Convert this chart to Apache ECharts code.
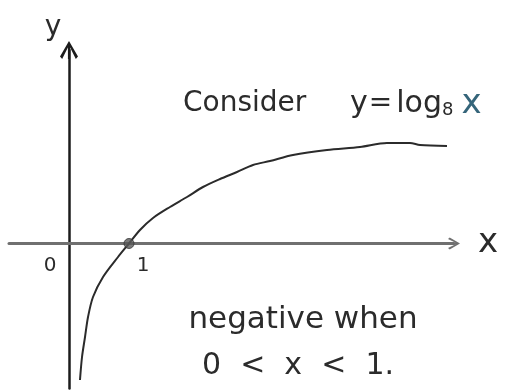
<!DOCTYPE html>
<html>
<head>
<meta charset="utf-8">
<title>y = log8 x</title>
<script src="https://cdn.jsdelivr.net/npm/echarts@6/dist/echarts.min.js"></script>
<style>
  html, body { margin: 0; padding: 0; background: #ffffff; }
  #chart { width: 509px; height: 390px; }
</style>
</head>
<body>
<div id="chart"></div>
<script>
// Sketched curve of y = log_8(x), sampled along the drawn line
const curveX = [0.183, 0.217, 0.267, 0.317, 0.40, 0.567, 0.817, 1.0, 1.183, 1.40, 1.683, 1.967, 2.233, 2.517, 2.80, 3.067, 3.35, 3.733, 4.30, 4.85, 5.30, 5.683, 5.85, 6.30];
const curveY = [-1.365, -1.135, -0.935, -0.735, -0.535, -0.335, -0.135, 0.0, 0.135, 0.255, 0.365, 0.465, 0.565, 0.645, 0.715, 0.785, 0.825, 0.885, 0.935, 0.965, 1.005, 1.005, 0.985, 0.975];

// The root of the curve, marked with a dot
const rootPoint = [1, 0];

// Tick labels on the x axis
const xTickValues = [0, 1];
const xTickLabels = ['0', '1'];

// Axis ranges
const xRange = [-1, 6.4167];
const yRange = [-1.45, 1.935];

const ink = '#2b2b2b';
const blueInk = '#35657a';
const handFont = '"DejaVu Sans", sans-serif';

// open chevron with a short stem, pointing up (rotated by the axis)
const chevron = 'path://M50 0L100 86L88 100L50 24L12 100L0 86ZM44 8L56 8L56 100L44 100Z';

const gridTop = 50;
const gridBottom = 1.5;
const chartHeight = 390;
const gridHeight = chartHeight - gridTop - gridBottom;
// lift the x axis (line and labels) from the grid's bottom edge up to y = 0
const xAxisLift = -(0 - yRange[0]) / (yRange[1] - yRange[0]) * gridHeight;

const chart = echarts.init(document.getElementById('chart'), null, { renderer: 'canvas' });

function seg(size, color, pad) {
  return { fontFamily: handFont, fontSize: size, fill: color, color: color, padding: pad };
}

chart.setOption({
  animation: false,
  backgroundColor: '#ffffff',
  grid: { left: 9, right: 55, top: gridTop, bottom: gridBottom, containLabel: false, outerBoundsMode: 'none' },
  xAxis: {
    type: 'value',
    position: 'bottom',
    offset: xAxisLift,
    min: xRange[0],
    max: xRange[1],
    name: 'x',
    nameLocation: 'end',
    nameGap: 24,
    nameTextStyle: { fontFamily: handFont, fontSize: 34, color: ink, verticalAlign: 'middle', padding: [0, 0, 8, 0] },
    axisLine: {
      onZero: false,
      lineStyle: { color: '#707070', width: 3 },
      symbol: ['none', chevron],
      symbolSize: [18, 12]
    },
    axisTick: { show: false },
    splitLine: { show: false },
    axisLabel: {
      customValues: xTickValues,
      margin: 12,
      fontFamily: handFont,
      fontSize: 20,
      color: ink,
      formatter: function (v) {
        const i = xTickValues.indexOf(v);
        const t = i >= 0 ? xTickLabels[i] : '';
        return v === 0 ? '{z|' + t + '}' : '{o|' + t + '}';
      },
      rich: {
        z: { fontFamily: handFont, fontSize: 20, color: ink, padding: [0, 38, 0, 0] },
        o: { fontFamily: handFont, fontSize: 20, color: ink, padding: [0, 0, 0, 28] }
      }
    }
  },
  yAxis: {
    type: 'value',
    min: yRange[0],
    max: yRange[1],
    name: 'y',
    nameLocation: 'end',
    nameGap: 8,
    nameTextStyle: { fontFamily: handFont, fontSize: 28, color: ink, padding: [0, 32, 0, 0] },
    axisLine: {
      onZero: true,
      lineStyle: { color: '#1c1c1c', width: 2.5 },
      symbol: ['none', chevron],
      symbolSize: [26, 18]
    },
    axisTick: { show: false },
    axisLabel: { show: false },
    splitLine: { show: false }
  },
  series: [
    {
      type: 'line',
      data: curveX.map(function (x, i) { return [x, curveY[i]]; }),
      smooth: 0.3,
      showSymbol: false,
      lineStyle: { color: ink, width: 2 },
      z: 3
    },
    {
      type: 'scatter',
      data: [rootPoint],
      symbolSize: 10,
      itemStyle: { color: '#5a5a5a', borderColor: '#333333', borderWidth: 1 },
      z: 4
    }
  ],
  graphic: [
    {
      type: 'text', x: 183, y: 104,
      style: { text: 'Consider', font: '28px ' + handFont, fill: ink, verticalAlign: 'middle' }
    },
    {
      type: 'text', x: 350, y: 104,
      style: {
        text: '{y|y}{e|=}{l|log}{s|8}{b|x}',
        verticalAlign: 'middle',
        rich: {
          y: seg(30, ink, [0, 0, 0, 0]),
          e: seg(28, ink, [0, 0, 0, 1]),
          l: seg(30, ink, [0, 0, 0, 4]),
          s: seg(18, ink, [12, 0, 0, 0]),
          b: seg(34, blueInk, [0, 0, 0, 8])
        }
      }
    },
    {
      type: 'text', x: 303, y: 320,
      style: { text: 'negative when', font: '31px ' + handFont, fill: ink, align: 'center', verticalAlign: 'middle' }
    },
    {
      type: 'text', x: 298, y: 366,
      style: { text: '0  <  x  <  1.', font: '30px ' + handFont, fill: ink, align: 'center', verticalAlign: 'middle' }
    }
  ]
});
</script>
</body>
</html>
